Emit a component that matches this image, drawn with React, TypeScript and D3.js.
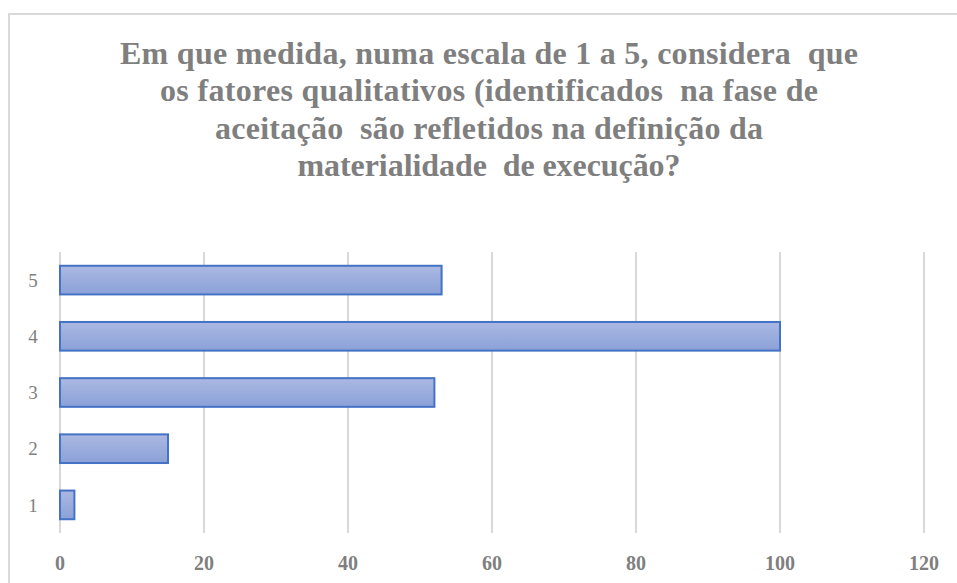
import React from 'react'
import * as d3 from 'd3'

const categories = ['1', '2', '3', '4', '5']
const values = [2, 15, 52, 100, 53]
const xTicks = [0, 20, 40, 60, 80, 100, 120]
const titleLines = [
  'Em que medida, numa escala de 1 a 5, considera  que',
  'os fatores qualitativos (identificados  na fase de',
  'aceitação  são refletidos na definição da',
  'materialidade  de execução?',
]
// rendered width of each title line in the original
const titleWidths = [738, 658, 548, 383]

const WIDTH = 957
const HEIGHT = 583
const margin = { top: 252, right: 33, bottom: 50, left: 60 }
const FONT = 'Liberation Serif'
const TEXT_GRAY = '#7f7f7f'

export default function App() {
  const innerW = WIDTH - margin.left - margin.right
  const innerH = HEIGHT - margin.top - margin.bottom

  const x = d3.scaleLinear().domain([0, 120]).range([0, innerW])
  // category 1 at the bottom, 5 at the top
  const y = d3
    .scaleBand()
    .domain([...categories].reverse())
    .range([0, innerH])
    .paddingInner(0.49)
    .paddingOuter(0.245)

  return (
    <svg
      width={WIDTH}
      height={HEIGHT}
      style={{ position: 'absolute', left: 0, top: 0, background: '#fff' }}
    >
      <defs>
        <linearGradient id="bar-gradient" x1="0" y1="0" x2="0" y2="1">
          <stop offset="0%" stopColor="#abb8e2" />
          <stop offset="100%" stopColor="#8ba1d8" />
        </linearGradient>
      </defs>

      {/* chart frame, cut by the picture on the right and bottom */}
      <path d={`M9,${HEIGHT} V14 H${WIDTH}`} fill="none" stroke="#d9d9d9" strokeWidth={2} />

      {titleLines.map((line, i) => (
        <text
          key={i}
          x={489}
          y={63.5 + i * 37.6}
          fontFamily={FONT}
          fontWeight="bold"
          fontSize={32}
          fill={TEXT_GRAY}
          textAnchor="middle"
          textLength={titleWidths[i]}
          lengthAdjust="spacing"
          style={{ whiteSpace: 'pre' }}
        >
          {line}
        </text>
      ))}

      <g transform={`translate(${margin.left},${margin.top})`}>
        {xTicks.map(t => (
          <line
            key={t}
            x1={x(t)}
            x2={x(t)}
            y1={0}
            y2={innerH}
            stroke="#d9d9d9"
            strokeWidth={2}
          />
        ))}

        {categories.map((c, i) => (
          <rect
            key={c}
            x={x(0)}
            y={y(c)}
            width={x(values[i]) - x(0)}
            height={y.bandwidth()}
            fill="url(#bar-gradient)"
            stroke="#4472c4"
            strokeWidth={2}
          />
        ))}

        {categories.map(c => (
          <text
            key={c}
            x={-27}
            y={y(c) + y.bandwidth() / 2}
            dy="0.35em"
            textAnchor="middle"
            fontFamily={FONT}
            fontSize={19}
            fill={TEXT_GRAY}
          >
            {c}
          </text>
        ))}

        {xTicks.map(t => (
          <text
            key={t}
            x={x(t)}
            y={innerH + 30}
            dy="0.35em"
            textAnchor="middle"
            fontFamily={FONT}
            fontWeight="bold"
            fontSize={20}
            fill={TEXT_GRAY}
          >
            {t}
          </text>
        ))}
      </g>
    </svg>
  )
}
